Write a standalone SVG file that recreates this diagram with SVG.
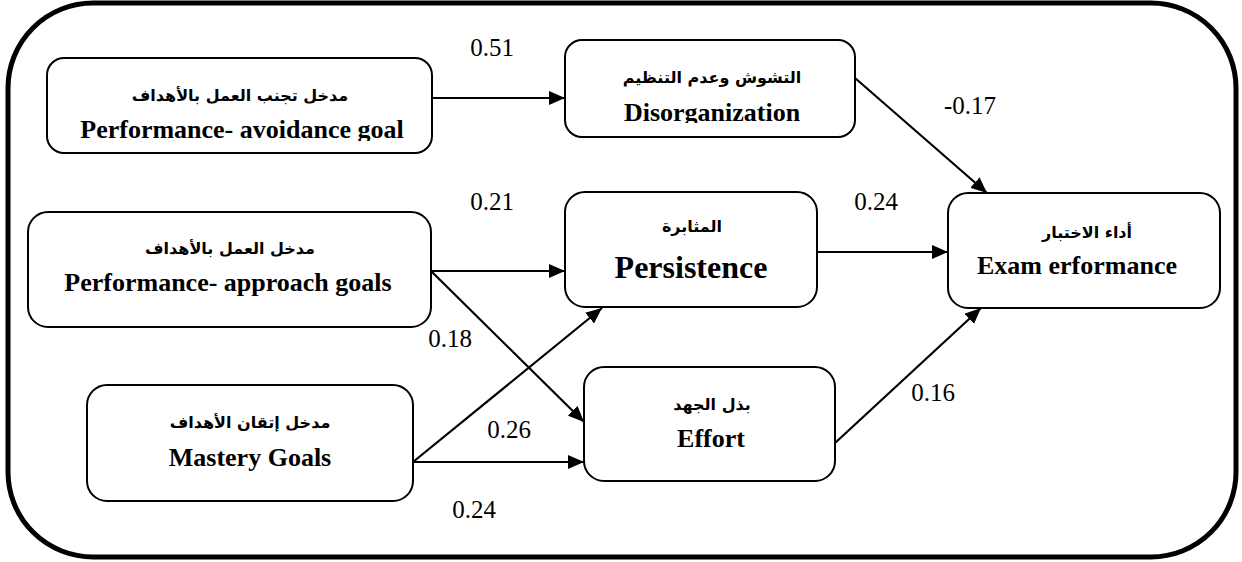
<svg xmlns="http://www.w3.org/2000/svg" width="1242" height="562" viewBox="0 0 1242 562">
<style>
.box{fill:#fff;stroke:#000;stroke-width:2}
.ar{font-family:"DejaVu Sans",sans-serif;font-weight:bold;font-size:16px;text-anchor:middle;fill:#000}
.en{font-family:"Liberation Serif",serif;font-weight:bold;font-size:26px;text-anchor:middle;fill:#000}
.lbl{font-family:"Liberation Serif",serif;font-size:25px;text-anchor:middle;fill:#000}
.c{stroke:#000;stroke-width:2.2;fill:none;marker-end:url(#ah)}
</style>
<defs>
<marker id="ah" markerUnits="userSpaceOnUse" markerWidth="16" markerHeight="14" viewBox="0 0 16 14" refX="16" refY="7" orient="auto">
<path d="M0,0 L16,7 L0,14 z" fill="#000"/>
</marker>
<clipPath id="clipA"><rect x="48" y="58" width="384" height="83"/></clipPath>
<clipPath id="clipD"><rect x="565" y="40" width="290" height="83"/></clipPath>
</defs>
<rect x="8" y="3" width="1228" height="554" rx="85" ry="85" fill="none" stroke="#000" stroke-width="5"/>
<g id="connectors">
<line class="c" x1="432" y1="98" x2="565" y2="98"/>
<line class="c" x1="855" y1="78" x2="987" y2="193"/>
<line class="c" x1="431" y1="271" x2="565" y2="271"/>
<line class="c" x1="431" y1="271" x2="584" y2="422"/>
<line class="c" x1="413" y1="462" x2="602" y2="308"/>
<line class="c" x1="413" y1="462" x2="584" y2="462"/>
<line class="c" x1="817" y1="252" x2="948" y2="252"/>
<line class="c" x1="835" y1="443" x2="981" y2="308"/>
</g>
<g id="labels">
<text class="lbl" x="492" y="56">0.51</text>
<text class="lbl" x="970" y="114">-0.17</text>
<text class="lbl" x="492" y="210">0.21</text>
<text class="lbl" x="876" y="210">0.24</text>
<text class="lbl" x="450" y="347">0.18</text>
<text class="lbl" x="509" y="438">0.26</text>
<text class="lbl" x="933" y="401">0.16</text>
<text class="lbl" x="474" y="518">0.24</text>
</g>
<g id="node-avoidance">
<rect class="box" x="47" y="58" width="385" height="95" rx="17"/>
<text class="ar" x="240" y="101" direction="rtl">مدخل تجنب العمل بالأهداف</text>
<text class="en" x="242" y="138" clip-path="url(#clipA)">Performance- avoidance goal</text>
</g>
<g id="node-disorganization">
<rect class="box" x="565" y="40" width="290" height="97" rx="17"/>
<text class="ar" x="712" y="83" direction="rtl">التشوش وعدم التنظيم</text>
<text class="en" x="712" y="121" clip-path="url(#clipD)">Disorganization</text>
</g>
<g id="node-approach">
<rect class="box" x="28" y="212" width="403" height="115" rx="20"/>
<text class="ar" x="230" y="254" direction="rtl">مدخل العمل بالأهداف</text>
<text class="en" x="228" y="291">Performance- approach goals</text>
</g>
<g id="node-persistence">
<rect class="box" x="565" y="192" width="252" height="115" rx="20"/>
<text class="ar" x="692" y="232" direction="rtl">المثابرة</text>
<text class="en" x="691" y="278" style="font-size:32px">Persistence</text>
</g>
<g id="node-exam">
<rect class="box" x="948" y="193" width="272" height="115" rx="20"/>
<text class="ar" x="1087" y="238" direction="rtl">أداء الاختبار</text>
<text class="en" x="1077" y="274">Exam erformance</text>
</g>
<g id="node-mastery">
<rect class="box" x="87" y="385" width="326" height="116" rx="20"/>
<text class="ar" x="250" y="428" direction="rtl">مدخل إتقان الأهداف</text>
<text class="en" x="250" y="466">Mastery Goals</text>
</g>
<g id="node-effort">
<rect class="box" x="584" y="367" width="251" height="114" rx="20"/>
<text class="ar" x="712" y="410" direction="rtl">بذل الجهد</text>
<text class="en" x="711" y="447">Effort</text>
</g>
</svg>
